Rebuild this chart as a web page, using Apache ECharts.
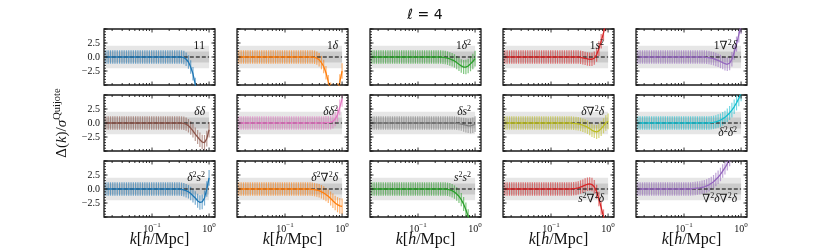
<!DOCTYPE html>
<html><head><meta charset="utf-8">
<script src="https://cdn.jsdelivr.net/npm/echarts@6/dist/echarts.min.js"></script>
<style>html,body{margin:0;padding:0;background:#fff;}#c{width:830px;height:249px;}</style>
</head><body><div id="c"></div>
<script>
// ---------- data ----------
const kValues = [0.0155,0.0170,0.0187,0.0205,0.0224,0.0246,0.0270,0.0297,0.0325,0.0357,
  0.0391,0.0429,0.0471,0.0516,0.0566,0.0621,0.0682,0.0748,0.0820,0.0900,
  0.0986,0.108,0.119,0.130,0.143,0.157,0.172,0.189,0.207,0.227,
  0.249,0.274,0.300,0.329,0.361,0.396,0.435,0.476,0.522,0.573,
  0.630,0.690,0.757,0.832,0.912,1.000];
const errHalf = [1.2,1.2,1.2,1.2,1.2,1.2,1.2,1.2,1.2,1.2,
  1.2,1.2,1.2,1.2,1.2,1.2,1.2,1.2,1.2,1.2,
  1.2,1.2,1.2,1.2,1.2,1.2,1.2,1.2,1.2,1.2,
  1.2,1.2,1.2,1.2,1.2,1.2,1.2,1.2,1.2,1.2,
  1.25,1.3,1.3,1.35,1.4,1.4];
const panelLabels = ['11','1δ','1δ²','1s²','1∇²δ','δδ','δδ²','δs²','δ∇²δ','δ²δ²','δ²s²','δ²∇²δ','s²s²','s²∇²δ','∇²δ∇²δ'];
const labelAtBottom = [false,false,false,false,false,false,false,false,false,true,false,false,false,true,true];
const panelColors = ['#1f77b4','#ff7f0e','#2ca02c','#d62728','#9467bd','#8c564b','#e377c2','#7f7f7f','#bcbd22','#17becf','#1f77b4','#ff7f0e','#2ca02c','#d62728','#9467bd'];
const v_11 = [0,0,0,0,0,0,0,0,0,0,0,0,0,0,0,0,0,0,0,0,0,0,0,0,0,0,0,0,
  0,0,0,0,0,0,-0.1,-0.4,-0.9,-1.8,-3.0,-4.9,-7,-9,-11,-13,-15,-17];
const v_1d = [0,0,0,0,0,0,0,0,0,0,0,0,0,0,0,0,0,0,0,0,0,0,0,0,0,0,0,0,
  0,0,0,0,0,-0.05,-0.2,-0.5,-1.0,-1.7,-2.8,-4.4,-5.8,-6.5,-6.8,-6.0,-4.5,-2.5];
const v_1d2 = [0,0,0,0,0,0,0,0,0,0,0,0,0,0,0,0,0,0,0,0,0,0,0,0,0,0,0,0,
  0,0,0,-0.05,-0.1,-0.2,-0.35,-0.5,-0.7,-1.0,-1.3,-1.6,-1.8,-1.8,-1.6,-1.2,-0.8,-0.3];
const v_1s2 = [0,0,0,0,0,0,0,0,0,0,0,0,0,0,0,0,0,0,0,0,0,0,0,0,0,0,0,0,
  0,0,0,0,0,-0.05,-0.15,-0.25,-0.35,-0.4,-0.4,-0.2,0.4,1.5,2.8,4.3,6,8];
const v_1n = [0,0,0,0,0,0,0,0,0,0,0,0,0,0,0,0,0,0,0,0,0,0,0,0,0,0,0,0,
  0,0,-0.05,-0.1,-0.2,-0.3,-0.45,-0.6,-0.8,-1.0,-1.2,-1.3,-1.1,-0.4,0.8,2.3,4,5.5];
const v_dd = [0,0,0,0,0,0,0,0,0,0,0,0,0,0,0,0,0,0,0,0,0,0,0,0,0,0,0,0,
  0,0,0,0,0,0,-0.05,-0.2,-0.5,-0.9,-1.4,-2.0,-2.5,-3.0,-3.4,-3.5,-2.8,-1.2];
const v_dd2 = [0,0,0,0,0,0,0,0,0,0,0,0,0,0,0,0,0,0,0,0,0,0,0,0,0,0,0,0,
  0,0,0,0,0,0,0,0,0,0,0.05,0.05,0.1,0.3,0.7,1.5,2.8,4.3];
const v_ds2 = [0,0,0,0,0,0,0,0,0,0,0,0,0,0,0,0,0,0,0,0,0,0,0,0,0,0,0,0,
  0,0,0,0,0,0,0,0,0,-0.05,-0.1,-0.2,-0.3,-0.4,-0.5,-0.5,-0.4,-0.2];
const v_dn = [0,0,0,0,0,0,0,0,0,0,0,0,0,0,0,0,0,0,0,0,0,0,0,0,0,0,0,0,
  0,0,-0.05,-0.1,-0.15,-0.25,-0.4,-0.55,-0.75,-1.0,-1.3,-1.5,-1.6,-1.4,-1.0,-0.5,0.0,0.3];
const v_d2d2 = [0,0,0,0,0,0,0,0,0,0,0,0,0,0,0,0,0,0,0,0,0,0,0,0,0,0,0,0,
  0,0,0,0,0.05,0.1,0.2,0.35,0.5,0.75,1.0,1.4,1.8,2.3,2.9,3.6,4.4,5.3];
const v_d2s2 = [0,0,0,0,0,0,0,0,0,0,0,0,0,0,0,0,0,0,0,0,0,0,0,0,0,0,0,0,
  0,0,0,0,0,-0.05,-0.15,-0.3,-0.5,-0.8,-1.2,-1.6,-2.1,-2.4,-2.3,-1.6,0,2.0];
const v_d2n = [0,0,0,0,0,0,0,0,0,0,0,0,0,0,0,0,0,0,0,0,0,0,0,0,0,0,0,0,
  0,0,0,0,-0.05,-0.1,-0.2,-0.3,-0.5,-0.7,-1.0,-1.3,-1.7,-2.1,-2.5,-2.8,-3.0,-3.1];
const v_s2s2 = [0,0,0,0,0,0,0,0,0,0,0,0,0,0,0,0,0,0,0,0,0,0,0,0,0,0,0,0,
  0,0,0,0,0,-0.05,-0.15,-0.3,-0.55,-0.9,-1.3,-1.9,-2.7,-3.7,-4.9,-6.3,-8,-10];
const v_s2n = [0,0,0,0,0,0,0,0,0,0,0,0,0,0,0,0,0,0,0,0,0,0,0,0,0,0,0,0,
  0,0,0.05,0.1,0.2,0.35,0.5,0.7,0.85,0.9,0.8,0.4,-0.5,-1.8,-3.3,-5,-7,-9];
const v_nn = [0,0,0,0,0,0,0,0,0,0,0,0,0,0,0,0,0,0,0,0,0,0,0,0,0.05,0.1,0.15,0.2,
  0.3,0.4,0.55,0.75,1.0,1.3,1.7,2.1,2.6,3.2,3.8,4.5,5.3,6.2,7.2,8.3,9.5,11];
const panelValues = [v_11,v_1d,v_1d2,v_1s2,v_1n,v_dd,v_dd2,v_ds2,v_dn,v_d2d2,v_d2s2,v_d2n,v_s2s2,v_s2n,v_nn];
const yTickLabels = ['−2.5','0.0','2.5'];
const xTickLabels = ['10^−1','10^0'];

// ---------- layout ----------
const colLeft = [104,237,370,503,636];
const rowTop = [29,95,161];
const pw = 111, ph = 56;
const xMin = 0.0144, xMax = 1.27, yMin = -5, yMax = 5;
const serif = '"Liberation Serif","DejaVu Serif",serif';

function rgba(hex, a){const n=parseInt(hex.slice(1),16);return `rgba(${(n>>16)&255},${(n>>8)&255},${n&255},${a})`;}

const xMajor=[0.01,0.1,1];
const xMinor=[];[0.01,0.1].forEach(d=>{for(let m=2;m<=9;m++)xMinor.push(m*d);});
const yMajor=[-5,-2.5,0,2.5,5];
const yMinor=[];for(let v=-5;v<=5.0001;v+=0.5)yMinor.push(Math.round(v*10)/10);

const grids=[],xAxes=[],yAxes=[],series=[],graphics=[];
function richLabel(s){
  let out='';
  for(const ch of s){
    if(ch==='δ'||ch==='s') out+='{i|'+ch+'}';
    else if(ch==='²') out+='{p|2}';
    else out+='{r|'+ch+'}';
  }
  return out;
}
for(let i=0;i<15;i++){
  const r=Math.floor(i/5),c=i%5;
  const L=colLeft[c],T=rowTop[r];
  grids.push({left:L,top:T,width:pw,height:ph,show:true,borderColor:'#1a1a1a',borderWidth:1.3,backgroundColor:'rgba(0,0,0,0)',containLabel:false,outerBoundsMode:'none'});
  xAxes.push({type:'log',logBase:10,gridIndex:i,min:xMin,max:xMax,
    axisLine:{show:false},axisTick:{show:false},splitLine:{show:false},minorTick:{show:false},
    axisLabel:{show:r===2,margin:5,showMinLabel:false,showMaxLabel:false,color:'#111',fontFamily:serif,fontSize:10,
      formatter:function(v){const l=Math.log10(v);if(Math.abs(l-Math.round(l))>1e-6)return '';
        const idx=[-1,0].indexOf(Math.round(l));if(idx<0)return '';const p=xTickLabels[idx].split('^');
        return '{b|'+p[0]+'}{s|'+p[1]+'}';},
      rich:{b:{fontFamily:serif,fontSize:10,color:'#111'},s:{fontFamily:serif,fontSize:7,color:'#111',padding:[0,0,7,0]}}}});
  yAxes.push({type:'value',gridIndex:i,min:yMin,max:yMax,interval:2.5,
    axisLine:{show:false},axisTick:{show:false},splitLine:{show:false},
    axisLabel:{show:c===0,margin:4,color:'#111',fontFamily:serif,fontSize:10,showMinLabel:false,showMaxLabel:false,
      formatter:function(v){const idx=[-2.5,0,2.5].indexOf(v);return idx<0?'':yTickLabels[idx];}}});
  const col=panelColors[i], vals=panelValues[i];
  const k0=kValues[0],kN=kValues[kValues.length-1];
  // bands
  series.push({type:'custom',xAxisIndex:i,yAxisIndex:i,z:1,silent:true,clip:true,
    data:[[k0,kN]],
    renderItem:function(p,api){
      const a=api.coord([api.value(0),2]),b=api.coord([api.value(1),-2]);
      const c1=api.coord([api.value(0),1]),d1=api.coord([api.value(1),-1]);
      return {type:'group',children:[
        {type:'rect',shape:{x:a[0],y:a[1],width:b[0]-a[0],height:b[1]-a[1]},style:{fill:'#e6e6e6'}},
        {type:'rect',shape:{x:c1[0],y:c1[1],width:d1[0]-c1[0],height:d1[1]-c1[1]},style:{fill:'#cbcbcb'}}]};
    }});
  // error bars
  series.push({type:'custom',xAxisIndex:i,yAxisIndex:i,z:2,silent:true,clip:true,
    data:kValues.map((k,j)=>[k,vals[j],errHalf[j]]),
    renderItem:function(p,api){
      const k=api.value(0),y=api.value(1),e=api.value(2);
      const p1=api.coord([k,y-e]),p2=api.coord([k,y+e]);
      return {type:'line',shape:{x1:p1[0],y1:p1[1],x2:p2[0],y2:p2[1]},style:{stroke:rgba(col,0.6),lineWidth:1.2}};
    }});
  // zero dashed line
  series.push({type:'line',xAxisIndex:i,yAxisIndex:i,z:3,silent:true,symbol:'none',
    data:[[k0,0],[kN,0]],lineStyle:{color:'#000',width:1,type:[4,2]}});
  // curve
  series.push({type:'line',xAxisIndex:i,yAxisIndex:i,z:4,silent:true,symbol:'none',clip:true,
    data:kValues.map((k,j)=>[k,vals[j]]),lineStyle:{color:col,width:1.3}});
  // ticks
  series.push({type:'custom',xAxisIndex:i,yAxisIndex:i,z:6,silent:true,clip:false,
    data:[[0.1,0]],
    renderItem:function(p,api){
      const tl=api.coord([xMin,yMax]),br=api.coord([xMax,yMin]);
      const left=tl[0],right=br[0],top=tl[1],bottom=br[1];
      const ch=[];const st={stroke:'#1a1a1a',lineWidth:0.9};
      function ln(x1,y1,x2,y2){ch.push({type:'line',shape:{x1,y1,x2,y2},style:st});}
      xMajor.forEach(k=>{if(k<xMin||k>xMax)return;const x=api.coord([k,0])[0];ln(x,bottom,x,bottom-3.5);ln(x,top,x,top+3.5);});
      xMinor.forEach(k=>{if(k<xMin||k>xMax)return;const x=api.coord([k,0])[0];ln(x,bottom,x,bottom-2);ln(x,top,x,top+2);});
      yMajor.forEach(v=>{const y=api.coord([xMin,v])[1];ln(left,y,left+3.5,y);ln(right,y,right-3.5,y);});
      yMinor.forEach(v=>{const y=api.coord([xMin,v])[1];ln(left,y,left+2,y);ln(right,y,right-2,y);});
      return {type:'group',children:ch};
    }});
  // panel label
  graphics.push({type:'text',x:L+101,y:labelAtBottom[i]?T+38:T+17,z:10,
    style:{text:richLabel(panelLabels[i]),align:'right',verticalAlign:'middle',
      rich:{r:{fontFamily:serif,fontSize:11.5,fill:'#111'},i:{fontFamily:serif,fontSize:11.5,fontStyle:'italic',fill:'#111'},
        p:{fontFamily:serif,fontSize:8,fill:'#111',padding:[0,0,6,0]}}}});
}
// x titles
for(let c=0;c<5;c++){
  graphics.push({type:'text',x:colLeft[c]+pw/2,y:240,z:10,
    style:{text:'{i|k}{r|[}{i|h}{r|/Mpc]}',align:'center',verticalAlign:'middle',
      rich:{r:{fontFamily:serif,fontSize:16,fill:'#111'},i:{fontFamily:serif,fontSize:16,fontStyle:'italic',fill:'#111'}}}});
}
// y title
graphics.push({type:'text',x:62,y:123,rotation:Math.PI/2,z:10,
  style:{text:'{r|Δ(}{i|k}{r|)/}{i|σ}{s|Quijote}',align:'center',verticalAlign:'middle',
    rich:{r:{fontFamily:serif,fontSize:15,fill:'#111'},i:{fontFamily:serif,fontSize:15,fontStyle:'italic',fill:'#111'},
      s:{fontFamily:serif,fontSize:10.5,fill:'#111',padding:[0,0,10,0]}}}});
// title
graphics.push({type:'text',x:425,y:15,z:10,
  style:{text:'ℓ = 4',align:'center',verticalAlign:'middle',font:'14px "DejaVu Sans"',fill:'#111'}});

const chart=echarts.init(document.getElementById('c'),null,{renderer:'canvas'});
chart.setOption({animation:false,backgroundColor:'#fff',grid:grids,xAxis:xAxes,yAxis:yAxes,series:series,graphic:graphics});
</script></body></html>
